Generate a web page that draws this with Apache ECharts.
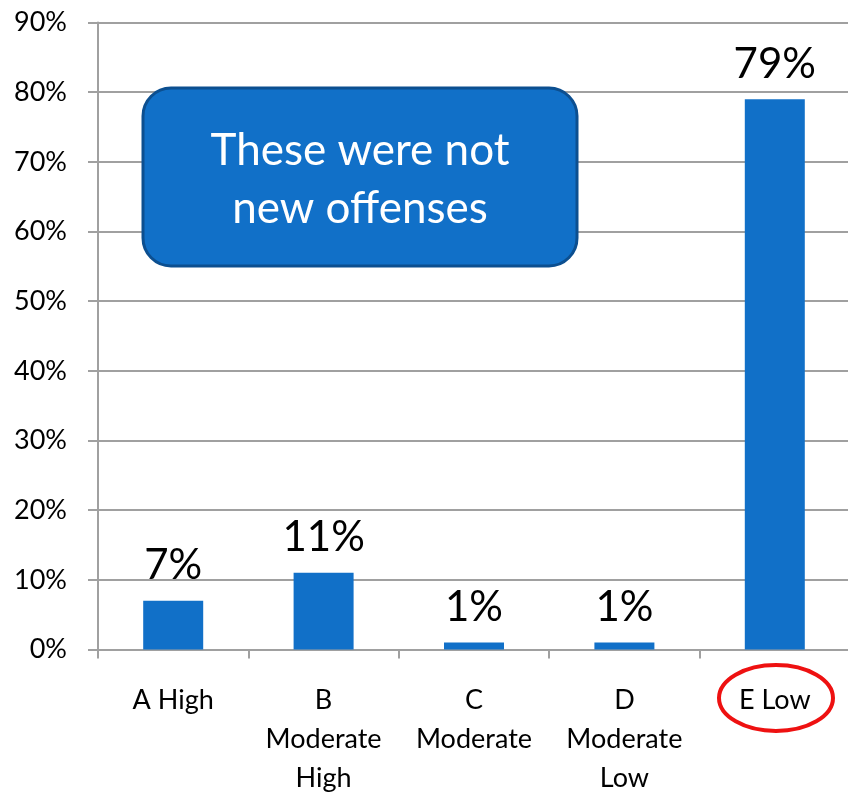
<!DOCTYPE html>
<html><head><meta charset="utf-8">
<script src="https://cdn.jsdelivr.net/npm/echarts@6/dist/echarts.min.js"></script>
<style>html,body{margin:0;padding:0;background:#fff}#c{width:848px;height:793px}</style>
</head><body><div id="c"></div>
<script>
var categories = ['A High', 'B\nModerate\nHigh', 'C\nModerate', 'D\nModerate\nLow', 'E Low'];
var values = [7, 11, 1, 1, 79];
var yTicks = [0, 10, 20, 30, 40, 50, 60, 70, 80, 90];
var note = 'These were not\nnew offenses';
var FONT = 'Lato';
var chart = echarts.init(document.getElementById('c'), null, {renderer: 'canvas'});
chart.setOption({
  animation: false,
  grid: {left: 98, top: 22.5, width: 752, height: 627, containLabel: false, outerBoundsMode: 'none'},
  xAxis: {
    type: 'category', data: categories,
    axisLine: {lineStyle: {color: '#a0a0a0', width: 2}},
    axisTick: {show: true, length: 9, lineStyle: {color: '#a0a0a0', width: 2}},
    axisLabel: {fontFamily: FONT, fontSize: 27, color: '#000', lineHeight: 39, margin: 31, interval: 0}
  },
  yAxis: {
    type: 'value', min: 0, max: 90, interval: 10,
    axisLine: {show: true, lineStyle: {color: '#a0a0a0', width: 2}},
    axisTick: {show: true, length: 10, lineStyle: {color: '#a0a0a0', width: 2}},
    splitLine: {show: true, lineStyle: {color: '#a0a0a0', width: 2}},
    axisLabel: {fontFamily: FONT, fontSize: 27, color: '#000', margin: 31,
      formatter: function (v) { return yTicks.indexOf(v) >= 0 ? v + '%' : ''; }}
  },
  series: [{
    type: 'bar', data: values, barWidth: 60,
    itemStyle: {color: '#1170C8'},
    label: {show: true, position: 'top', distance: 14, fontFamily: FONT, fontSize: 42, color: '#000',
      formatter: function (p) { return p.value + '%'; }}
  }],
  graphic: [
    {type: 'rect', z: 100, shape: {x: 143, y: 88, width: 434, height: 178, r: 28},
     style: {fill: '#1170C8', stroke: '#0C4F90', lineWidth: 3}},
    {type: 'text', z: 101, x: 360, y: 180,
     style: {text: note, fill: '#fff', font: '44px Lato', textAlign: 'center', textVerticalAlign: 'middle', lineHeight: 58}},
    {type: 'ellipse', z: 100, shape: {cx: 776, cy: 698, rx: 57, ry: 33},
     style: {fill: 'none', stroke: '#EE1111', lineWidth: 4}}
  ]
});
</script></body></html>
